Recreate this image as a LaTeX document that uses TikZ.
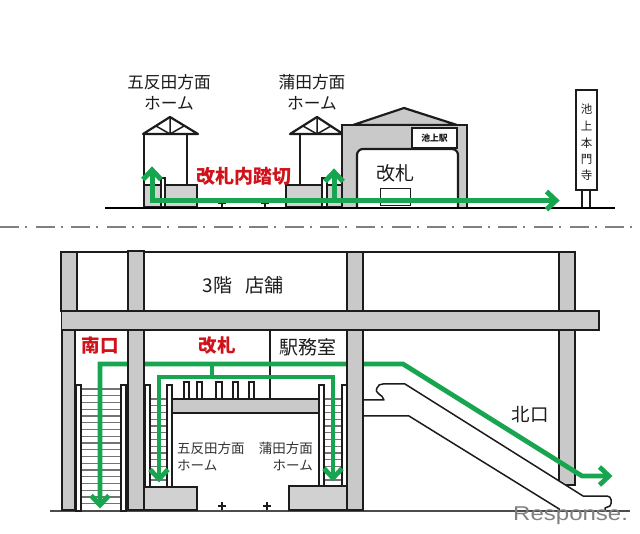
\documentclass[tikz,border=0pt]{standalone}
\usepackage{fontspec}
\setmainfont{Noto Sans CJK JP}
\newfontfamily\latinf{Liberation Sans}
\definecolor{grn}{HTML}{18A550}
\definecolor{gry}{HTML}{C9C9C9}
\definecolor{redt}{HTML}{D0121B}
\definecolor{ink}{HTML}{1C1C1C}
\newcommand{\fsz}[1]{\fontsize{#1}{#1}\selectfont}
\newcommand{\chev}[4]{\draw[route,line width=#4pt,line cap=butt,shift={(#1,#2)},rotate=#3] (-9.5,-9) -- (0,0) -- (-9.5,9);}
\tikzset{
 x=1pt,y=-1pt,
 wall/.style={draw=ink,line width=1.8pt,fill=gry},
 open/.style={draw=ink,line width=1.8pt,fill=white},
 thin wall/.style={draw=ink,line width=1.2pt,fill=white},
 plinth/.style={draw=ink,line width=1.5pt,fill=gry!85!white},
 stroke/.style={draw=ink,line width=1.8pt},
 tread/.style={draw=black!55,line width=1.1pt},
 route/.style={draw=grn,line width=4.8pt,line join=miter},
 label/.style={text=ink,inner sep=0pt,align=center},
 redlabel/.style={text=redt,inner sep=0pt,font=\fsz{18.5}\bfseries},
}
\begin{document}
\begin{tikzpicture}
\useasboundingbox (0,0) rectangle (640,534);
\fill[white] (0,0) rectangle (640,534);
% ---- upper elevation ----
\coordinate (gl) at (105,208); \coordinate (gr) at (615,208);
\foreach \ax/\bx/\cx in {170/143/198,317/290/343}{
 \draw[stroke,line width=2.2pt,line join=round] (\bx,134) -- (\ax,117) -- (\cx,134) -- cycle;
 \draw[stroke,line width=1.5pt] (\ax,117) -- (\ax,134) (\ax-14,126) -- (\ax,134) -- (\ax+14,126);
}
\draw[stroke] (144,134) -- (144,207) (187,134) -- (187,185) (300,134) -- (300,185);
\draw[plinth] (144,185) rectangle (161,207);
\draw[thin wall] (161,178) rectangle (165,207);
\draw[plinth] (165,185) rectangle (197,207);
\draw[plinth] (286,185) rectangle (322,207);
\draw[thin wall] (322,178) rectangle (327,207);
\draw[plinth] (327,185) rectangle (342,207);
% station
\draw[stroke,fill=gry,line width=2.2pt,line join=round] (353,125) -- (404,108) -- (457,125) -- cycle;
\draw[wall,line width=2.2pt] (342,125) rectangle (467,208);
\draw[open,line width=2.2pt,rounded corners=6pt] (357,208) -- (357,149) -- (458,149) -- (458,208);
\draw[open,line width=1.6pt] (412,128) rectangle (457,148);
\node[label,font=\fsz{8.8}\bfseries] (signA) at (434.5,138) {池上駅};
\node[label,font=\fsz{19}] (gateA) at (395,173) {改札};
\draw[draw=ink,line width=1pt] (380,189) rectangle (410,206);
% tracks
\draw[stroke,line width=1.3pt] (218,203.5) -- (226,203.5) (222,203.5) -- (222,208) (261,203.5) -- (269,203.5) (265,203.5) -- (265,208);
% post sign
\draw[stroke,line width=1.2pt] (582,190) -- (582,208) (590,190) -- (590,208);
\draw[open,line width=1.3pt] (576,90) rectangle (597,190);
\node[label,font=\fsz{11.5}] (s1) at (586.5,109) {池};
\node[label,font=\fsz{11.5}] (s2) at (586.5,126) {上};
\node[label,font=\fsz{11.5}] (s3) at (586.5,143) {本};
\node[label,font=\fsz{11.5}] (s4) at (586.5,159) {門};
\node[label,font=\fsz{11.5}] (s5) at (586.5,175) {寺};
\draw[draw=black,line width=2.4pt] (gl) -- (gr);
% upper route
\coordinate (ra) at (152,200.5); \coordinate (rb) at (556,200.5); \coordinate (rc) at (334,200.5);
\draw[route,line width=5pt] (152,172) -- (ra) -- (rb);
\draw[route,line width=5pt] (rc) -- (334,174);
\chev{556}{200.5}{0}{5}
\chev{152}{170}{90}{5}
\chev{334}{172}{90}{5}
% labels
\node[label,font=\fsz{16.7}] (l1) at (169,82) {五反田方面};
\node[label,font=\fsz{16.7}] (l2) at (169,103) {ホーム};
\node[label,font=\fsz{16.7}] (l3) at (312,82) {蒲田方面};
\node[label,font=\fsz{16.7}] (l4) at (312,103) {ホーム};
\node[redlabel,font=\fsz{19}\bfseries] (l5) at (244,176) {改札内踏切};
% divider
\draw[draw=black!50,line width=1.8pt,dash pattern=on 19pt off 6pt on 2pt off 8.6pt] (0,227) -- (640,227);
% ---- lower section ----
\draw[draw=black!70,line width=1.8pt] (50,511) -- (630,511);
\draw[stroke] (61,252) -- (575,252);
\draw[wall] (559,252) rectangle (575,485);
% rooms
\draw[stroke,line width=1.3pt] (270,330) -- (270,399);
% gates
\foreach \gx/\gw in {184/5,197/5,216/6,233/5,249/5}{\draw[thin wall] (\gx,382) rectangle (\gx+\gw,399);}
\draw[stroke] (144,399) -- (347,399);
\draw[wall] (172,399) rectangle (319,413);
% stairs
\foreach \tx/\ty/\tyb/\txb in {81/389/508/121,150/399/484/167,324/399/484/342}{
 \foreach \k in {0,...,18}{
  \pgfmathsetmacro{\yy}{\ty+\k*6.75}
  \pgfmathparse{\yy<=\tyb?1:0}
  \ifnum\pgfmathresult=1\relax\draw[tread] (\tx,\yy) -- (\txb,\yy);\fi
 }
}
\draw[thin wall] (76,385) rectangle (81,511);
\draw[thin wall] (121,385) rectangle (126,511);
\draw[thin wall] (145,385) rectangle (150,487);
\draw[thin wall] (167,385) rectangle (172,487);
\draw[thin wall] (319,385) rectangle (324,486);
\draw[thin wall] (342,385) rectangle (347,486);
\draw[plinth] (144,487) rectangle (197,510);
\draw[plinth] (289,486) rectangle (347,510);
% escalator
\draw[fill=white,draw=none] (363,400) -- (384,400) -- (377,388) -- (405,384) -- (583,496) -- (610,496) -- (605,510) -- (560,510) -- (409,416) -- (363,416) -- cycle;
\draw[stroke,line width=1.5pt,line join=round] (363,400) -- (384,400) .. controls (383,394) and (374,394) .. (377,388) .. controls (378,385) and (380,384) .. (383,384) -- (405,384) -- (583,496) -- (607,496) .. controls (612,496) and (612,503) .. (610,506) -- (605,508) -- (605,510);
\draw[stroke,line width=1.5pt,line join=round] (363,416) -- (409,416) -- (560,509.5);
% lower route
\coordinate (p0) at (100,364); \coordinate (p1) at (403,364); \coordinate (p2) at (582,476);
\coordinate (p3) at (609,476); \coordinate (p4) at (100,504); \coordinate (b0) at (212,364);
\coordinate (b1) at (212,377); \coordinate (b2) at (159,377); \coordinate (b3) at (333,377);
\draw[route] (p4) -- (p0) -- (p1) -- (p2) -- (p3);
\chev{609}{476}{0}{4.8}
\chev{100}{505}{-90}{4.8}
\draw[route] (b0) -- (b1);
\draw[route] (159,478) -- (b2) -- (b3) -- (333,478);
\chev{159}{479}{-90}{4.8}
\chev{333}{478}{-90}{4.8}
% columns and beam (in front of the route)
\draw[wall] (61,252) rectangle (77,311);
\draw[wall] (62,330) rectangle (75,510);
\draw[wall] (128,251) rectangle (144,510);
\draw[wall] (347,252) rectangle (363,510);
\draw[wall] (61.5,311) rectangle (599,330);
% labels
\node[label,font=\fsz{19}] (t1) at (243,285) {3階\hspace{0.7em}店舗};
\node[redlabel] (t2) at (100,346) {南口};
\node[redlabel] (t3) at (217,346) {改札};
\node[label,font=\fsz{19}] (t4) at (308,347) {駅務室};
\node[label,font=\fsz{13.5},anchor=west,text=black!80] (t5) at (177,448) {五反田方面};
\node[label,font=\fsz{13.5},anchor=west,text=black!80] (t6) at (177,465) {ホーム};
\node[label,font=\fsz{13.5},anchor=east,text=black!80] (t7) at (313,448) {蒲田方面};
\node[label,font=\fsz{13.5},anchor=east,text=black!80] (t8) at (313,465) {ホーム};
\node[label,font=\fsz{18.5}] (t9) at (530,415) {北口};
% plus marks
\draw[stroke,line width=1.3pt] (218,506) -- (226,506) (222,502) -- (222,510) (263,506) -- (271,506) (267,502) -- (267,510);
% watermark
\node[inner sep=0pt,anchor=base west,text=black!50,font=\latinf\fsz{20},xscale=1.2] (wm) at (513,520) {Response.};
\end{tikzpicture}
\end{document}
